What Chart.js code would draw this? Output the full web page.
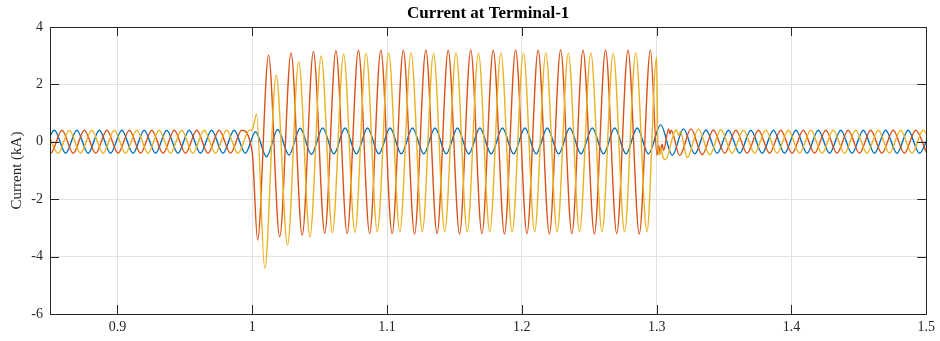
<!DOCTYPE html>
<html>
<head>
<meta charset="utf-8">
<title>Current at Terminal-1</title>
<script src="https://cdn.jsdelivr.net/npm/chart.js@4.4.1/dist/chart.umd.min.js"></script>
<style>
  html, body { margin: 0; padding: 0; background: #ffffff; }
  #current-chart { display: block; }
</style>
</head>
<body>
<canvas id="current-chart" width="940" height="341"></canvas>
<script>
const X_TICKS = [0.9, 1, 1.1, 1.2, 1.3, 1.4, 1.5];
const Y_TICKS = [-6, -4, -2, 0, 2, 4];

// waveform peaks/troughs (time in s, current in kA)
const BLUE_T = [
  0.8449, 0.8533, 0.8616, 0.8699, 0.8783, 0.8866, 0.8949, 0.9033, 0.9116, 0.9199,
  0.9283, 0.9366, 0.9449, 0.9533, 0.9616, 0.9699, 0.9783, 0.9866, 0.9949, 1.0025,
  1.0106, 1.0189, 1.0273, 1.0356, 1.0439, 1.0523, 1.0606, 1.0689, 1.0773, 1.0856,
  1.0939, 1.1023, 1.1106, 1.1189, 1.1273, 1.1356, 1.1439, 1.1523, 1.1606, 1.1689,
  1.1773, 1.1856, 1.1939, 1.2023, 1.2106, 1.2189, 1.2273, 1.2356, 1.2439, 1.2523,
  1.2606, 1.2689, 1.2773, 1.2856, 1.2939, 1.3030, 1.3116, 1.3199, 1.3283, 1.3366,
  1.3449, 1.3533, 1.3616, 1.3699, 1.3783, 1.3866, 1.3949, 1.4033, 1.4116, 1.4199,
  1.4283, 1.4366, 1.4449, 1.4533, 1.4616, 1.4699, 1.4783, 1.4866, 1.4949, 1.5033,
];
const BLUE_I = [
  -0.40, 0.40, -0.40, 0.40, -0.40, 0.40, -0.40, 0.40, -0.40, 0.40,
  -0.40, 0.40, -0.40, 0.40, -0.40, 0.40, -0.40, 0.40, -0.40, 0.35,
  -0.52, 0.43, -0.46, 0.47, -0.44, 0.48, -0.42, 0.48, -0.42, 0.48,
  -0.42, 0.48, -0.42, 0.48, -0.42, 0.48, -0.42, 0.48, -0.42, 0.48,
  -0.42, 0.48, -0.42, 0.48, -0.42, 0.48, -0.42, 0.48, -0.42, 0.48,
  -0.42, 0.48, -0.42, 0.48, -0.42, 0.59, -0.47, 0.45, -0.42, 0.41,
  -0.40, 0.40, -0.40, 0.40, -0.40, 0.40, -0.40, 0.40, -0.40, 0.40,
  -0.40, 0.40, -0.40, 0.40, -0.40, 0.40, -0.40, 0.40, -0.40, 0.40,
];

const RED_T = [
  0.8422, 0.8505, 0.8589, 0.8672, 0.8755, 0.8839, 0.8922, 0.9005, 0.9089, 0.9172,
  0.9255, 0.9339, 0.9422, 0.9505, 0.9589, 0.9672, 0.9755, 0.9839, 0.9922, 1.0000,
  1.0040, 1.0121, 1.0204, 1.0288, 1.0371, 1.0454, 1.0538, 1.0621, 1.0704, 1.0788,
  1.0871, 1.0954, 1.1038, 1.1121, 1.1204, 1.1288, 1.1371, 1.1454, 1.1538, 1.1621,
  1.1704, 1.1788, 1.1871, 1.1954, 1.2038, 1.2121, 1.2204, 1.2288, 1.2371, 1.2454,
  1.2538, 1.2621, 1.2704, 1.2788, 1.2871, 1.2954, 1.3003, 1.3015, 1.3026, 1.3040,
  1.3052, 1.3088, 1.3098, 1.3108, 1.3171, 1.3255, 1.3338, 1.3421, 1.3505, 1.3588,
  1.3671, 1.3755, 1.3838, 1.3921, 1.4005, 1.4088, 1.4171, 1.4255, 1.4338, 1.4421,
  1.4505, 1.4588, 1.4671, 1.4755, 1.4838, 1.4921, 1.5005,
];
const RED_I = [
  0.40, -0.40, 0.40, -0.40, 0.40, -0.40, 0.40, -0.40, 0.40, -0.40,
  0.40, -0.40, 0.40, -0.40, 0.40, -0.40, 0.40, -0.40, 0.40, -0.36,
  -3.42, 3.02, -3.31, 3.10, -3.25, 3.15, -3.19, 3.17, -3.20, 3.19,
  -3.20, 3.19, -3.20, 3.19, -3.21, 3.20, -3.20, 3.19, -3.21, 3.20,
  -3.20, 3.19, -3.21, 3.20, -3.20, 3.19, -3.21, 3.20, -3.20, 3.19,
  -3.21, 3.20, -3.20, 3.19, -3.21, 3.20, -0.46, -0.12, -0.40, -0.08,
  -0.30, 0.45, 0.28, 0.40, -0.48, 0.45, -0.45, 0.41, -0.40, 0.40,
  -0.40, 0.40, -0.40, 0.40, -0.40, 0.40, -0.40, 0.40, -0.40, 0.40,
  -0.40, 0.40, -0.40, 0.40, -0.40, 0.40, -0.40,
];

const YELLOW_T = [
  0.8477, 0.8560, 0.8644, 0.8727, 0.8810, 0.8894, 0.8977, 0.9060, 0.9144, 0.9227,
  0.9310, 0.9394, 0.9477, 0.9560, 0.9644, 0.9727, 0.9810, 0.9894, 0.9977, 1.0000,
  1.0032, 1.0093, 1.0178, 1.0262, 1.0345, 1.0428, 1.0512, 1.0595, 1.0678, 1.0762,
  1.0845, 1.0928, 1.1012, 1.1095, 1.1178, 1.1262, 1.1345, 1.1428, 1.1512, 1.1595,
  1.1678, 1.1762, 1.1845, 1.1928, 1.2012, 1.2095, 1.2178, 1.2262, 1.2345, 1.2428,
  1.2512, 1.2595, 1.2678, 1.2762, 1.2845, 1.2928, 1.3000, 1.3009, 1.3021, 1.3033,
  1.3046, 1.3065, 1.3144, 1.3163, 1.3176, 1.3227, 1.3310, 1.3394, 1.3477, 1.3560,
  1.3644, 1.3727, 1.3810, 1.3894, 1.3977, 1.4060, 1.4144, 1.4227, 1.4310, 1.4394,
  1.4477, 1.4560, 1.4644, 1.4727, 1.4810, 1.4894, 1.4977, 1.5060,
];
const YELLOW_I = [
  0.40, -0.40, 0.40, -0.40, 0.40, -0.40, 0.40, -0.40, 0.40, -0.40,
  0.40, -0.40, 0.40, -0.40, 0.40, -0.40, 0.40, -0.40, 0.40, 0.42,
  0.96, -4.41, 2.32, -3.60, 2.79, -3.31, 2.99, -3.17, 3.05, -3.15,
  3.08, -3.14, 3.09, -3.13, 3.10, -3.14, 3.09, -3.13, 3.10, -3.14,
  3.09, -3.13, 3.10, -3.14, 3.09, -3.13, 3.10, -3.14, 3.09, -3.13,
  3.10, -3.14, 3.09, -3.13, 3.10, -3.13, 2.95, -0.10, -0.45, -0.22,
  -0.52, -0.62, 0.42, 0.22, 0.36, -0.55, 0.45, -0.45, 0.42, -0.40,
  0.40, -0.40, 0.40, -0.40, 0.40, -0.40, 0.40, -0.40, 0.40, -0.40,
  0.40, -0.40, 0.40, -0.40, 0.40, -0.40, 0.40, -0.40,
];

const TICK_LEN = 9;
const AXIS_COLOR = '#262626';

function toPoints(times, values) {
  return times.map((t, i) => ({ x: t, y: values[i] }));
}

function phase(label, times, values, color, order) {
  return {
    label,
    data: toPoints(times, values),
    borderColor: color,
    borderWidth: 1.4,
    pointRadius: 0,
    cubicInterpolationMode: 'monotone',
    order,
  };
}

// MATLAB-like box with inward ticks on all four sides
const axesBox = {
  id: 'axesBox',
  afterDraw(chart) {
    const { ctx, chartArea: a, scales: { x, y } } = chart;
    ctx.save();
    ctx.strokeStyle = AXIS_COLOR;
    ctx.lineWidth = 1;
    ctx.beginPath();
    X_TICKS.forEach((v) => {
      const px = Math.round(x.getPixelForValue(v)) + 0.5;
      ctx.moveTo(px, a.bottom);
      ctx.lineTo(px, a.bottom - TICK_LEN);
      ctx.moveTo(px, a.top);
      ctx.lineTo(px, a.top + TICK_LEN);
    });
    Y_TICKS.forEach((v) => {
      const py = Math.round(y.getPixelForValue(v)) + 0.5;
      ctx.moveTo(a.left, py);
      ctx.lineTo(a.left + TICK_LEN, py);
      ctx.moveTo(a.right, py);
      ctx.lineTo(a.right - TICK_LEN, py);
    });
    ctx.stroke();
    ctx.strokeRect(Math.round(a.left) + 0.5, Math.round(a.top) + 0.5,
      Math.round(a.right - a.left), Math.round(a.bottom - a.top));
    ctx.restore();
  },
};

Chart.defaults.font.family = "'Liberation Serif', 'Times New Roman', serif";
Chart.defaults.color = AXIS_COLOR;

new Chart(document.getElementById('current-chart'), {
  type: 'line',
  data: {
    datasets: [
      phase('Phase A', BLUE_T, BLUE_I, '#0072BD', 3),
      phase('Phase B', RED_T, RED_I, '#D95319', 2),
      phase('Phase C', YELLOW_T, YELLOW_I, '#EDB120', 1),
    ],
  },
  options: {
    animation: false,
    responsive: false,
    devicePixelRatio: 1,
    layout: { padding: { left: 0, right: 12, top: 0, bottom: 0 } },
    plugins: {
      legend: { display: false },
      tooltip: { enabled: false },
      title: {
        display: true,
        text: 'Current at Terminal-1',
        fullSize: false,
        color: '#000000',
        font: { size: 17, weight: 'bold' },
        padding: { top: 3, bottom: 3.6 },
      },
    },
    scales: {
      x: {
        type: 'linear',
        min: 0.85,
        max: 1.5,
        afterBuildTicks: (scale) => { scale.ticks = X_TICKS.map((v) => ({ value: v })); },
        afterFit: (scale) => { scale.height = 27; },
        grid: { color: '#e1e1e1', drawTicks: false },
        border: { display: false },
        ticks: {
          padding: 5,
          font: { size: 14 },
          color: AXIS_COLOR,
          callback: (v) => String(v),
        },
      },
      y: {
        min: -6,
        max: 4,
        afterBuildTicks: (scale) => { scale.ticks = Y_TICKS.map((v) => ({ value: v })); },
        afterFit: (scale) => { scale.width = 50; },
        grid: { color: '#e1e1e1', drawTicks: false },
        border: { display: false },
        ticks: {
          padding: 7,
          font: { size: 14 },
          color: AXIS_COLOR,
          callback: (v) => String(v),
        },
        title: {
          display: true,
          text: 'Current (kA)',
          font: { size: 15 },
          color: AXIS_COLOR,
          padding: { top: 8, bottom: 0 },
        },
      },
    },
  },
  plugins: [axesBox],
});
</script>
</body>
</html>
